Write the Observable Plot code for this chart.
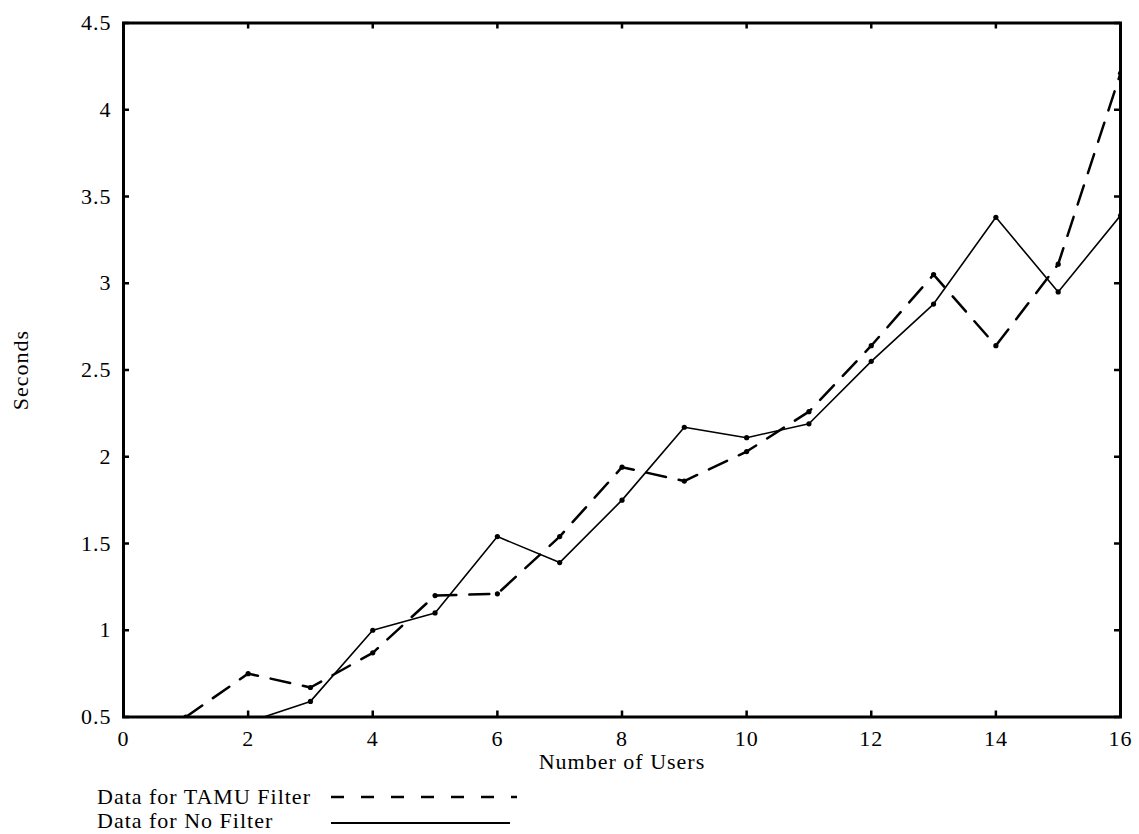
<!DOCTYPE html>
<html>
<head>
<meta charset="utf-8">
<script src="https://cdn.jsdelivr.net/npm/d3@7"></script>
<script src="https://cdn.jsdelivr.net/npm/@observablehq/plot@0.6"></script>
<style>
  body { margin: 0; background: white; }
  #legend { position: relative; width: 1139px; height: 59px; font-family: "Liberation Serif", "Times New Roman", serif; font-size: 22px; letter-spacing: 1px; color: black; }
  #legend .lbl { position: absolute; left: 97px; line-height: 24px; white-space: nowrap; }
  #legend svg { position: absolute; left: 0; top: 0; }
</style>
</head>
<body>
<div id="chart"></div>
<div id="legend">
  <span class="lbl" style="top:10px">Data for TAMU Filter</span>
  <span class="lbl" style="top:34px">Data for No Filter</span>
  <svg width="1139" height="59">
    <line x1="331" x2="517" y1="22" y2="22" stroke="black" stroke-width="2.5" stroke-dasharray="13,17"></line>
    <line x1="331" x2="510" y1="48" y2="48" stroke="black" stroke-width="2"></line>
  </svg>
</div>
<script>
const tamuUsers = [1, 2, 3, 4, 5, 6, 7, 8, 9, 10, 11, 12, 13, 14, 15, 16];
const tamuSeconds = [0.5, 0.75, 0.67, 0.87, 1.20, 1.21, 1.54, 1.94, 1.86, 2.03, 2.26, 2.64, 3.05, 2.64, 3.11, 4.21];
const noFilterUsers = [2, 3, 4, 5, 6, 7, 8, 9, 10, 11, 12, 13, 14, 15, 16];
const noFilterSeconds = [0.47, 0.59, 1.00, 1.10, 1.54, 1.39, 1.75, 2.17, 2.11, 2.19, 2.55, 2.88, 3.38, 2.95, 3.39];
const xTicks = [0, 2, 4, 6, 8, 10, 12, 14, 16];
const yTicks = [0.5, 1, 1.5, 2, 2.5, 3, 3.5, 4, 4.5];
const xLabel = "Number of Users";
const yLabel = "Seconds";

const tamu = tamuUsers.map((u, i) => ({users: u, seconds: tamuSeconds[i]}));
const noFilter = noFilterUsers.map((u, i) => ({users: u, seconds: noFilterSeconds[i]}));

const W = 1139, H = 775, mT = 22.5, mB = 58.5, mL = 123, mR = 19;
const plotH = H - mT - mB, plotW = W - mL - mR;

const chart = Plot.plot({
  width: W, height: H,
  marginTop: mT, marginBottom: mB, marginLeft: mL, marginRight: mR,
  x: {domain: [0, 16]},
  y: {domain: [0.5, 4.5]},
  style: {fontFamily: "'Liberation Serif', 'Times New Roman', serif", fontSize: "22px", letterSpacing: "1px", background: "white", color: "black"},
  marks: [
    Plot.axisX(xTicks, {tickSize: 0, tickPadding: 13, label: null, tickFormat: d => String(d)}),
    Plot.axisY(yTicks, {tickSize: 0, tickPadding: 12, label: null, tickFormat: d => String(d)}),
    Plot.tickX(xTicks, {x: d => d, insetTop: plotH - 6, strokeWidth: 2.5}),
    Plot.tickX(xTicks, {x: d => d, insetBottom: plotH - 6, strokeWidth: 2.5}),
    Plot.tickY(yTicks, {y: d => d, insetRight: plotW - 6, strokeWidth: 2.5}),
    Plot.tickY(yTicks, {y: d => d, insetLeft: plotW - 6, strokeWidth: 2.5}),
    Plot.line(tamu, {x: "users", y: "seconds", stroke: "black", strokeWidth: 2.5, strokeDasharray: "20,13", clip: true}),
    Plot.line(noFilter, {x: "users", y: "seconds", stroke: "black", strokeWidth: 1.6, clip: true}),
    Plot.dot(tamu, {x: "users", y: "seconds", r: 2.6, fill: "black", clip: true}),
    Plot.dot(noFilter, {x: "users", y: "seconds", r: 2.6, fill: "black", clip: true}),
    Plot.frame({stroke: "black", strokeWidth: 3}),
    Plot.text([xLabel], {text: d => d, frameAnchor: "bottom", textAnchor: "middle", dy: 52, fontSize: 22}),
    Plot.text([yLabel], {text: d => d, frameAnchor: "left", textAnchor: "middle", dx: -103, rotate: -90, fontSize: 22})
  ]
});
document.getElementById("chart").appendChild(chart);
</script>
</body>
</html>
